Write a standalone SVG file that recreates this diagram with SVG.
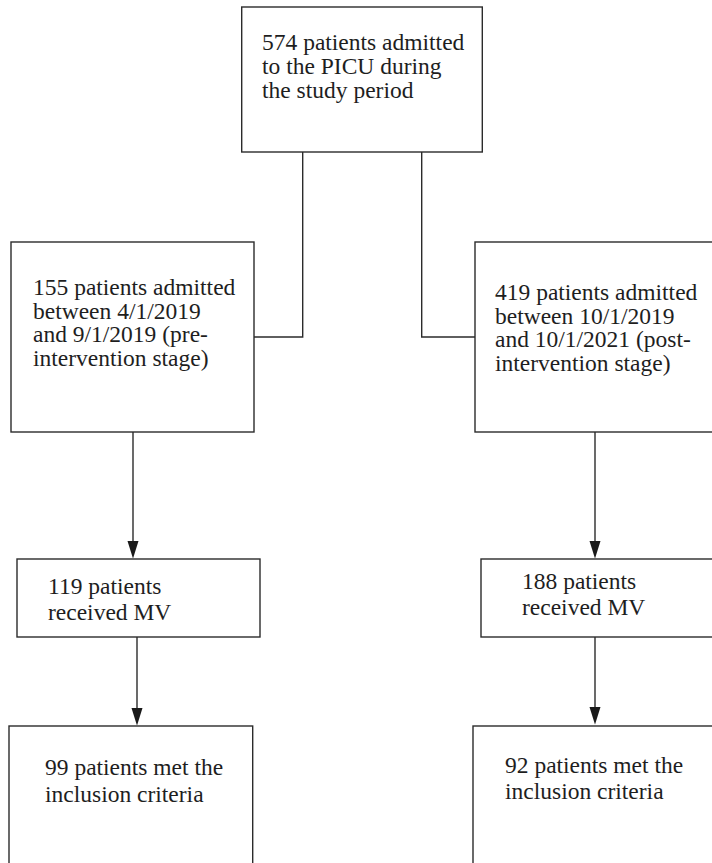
<svg xmlns="http://www.w3.org/2000/svg" width="712" height="863" viewBox="0 0 712 863">
<style>
.box{fill:#fff;stroke:#2b2b2b;stroke-width:1.4}
.lbl{font-family:"Liberation Serif","Times New Roman",serif;font-size:23.5px;fill:#1e1e1e}
.con{fill:none;stroke:#2b2b2b;stroke-width:1.4}
.head{fill:#1a1a1a}
</style>
<rect width="712" height="863" fill="#fff"/>
<g id="connectors">
<path class="con" d="M302.7,152 V337 H254"/>
<path class="con" d="M421.7,152 V337 H475"/>
<line class="con" x1="133" y1="432" x2="133" y2="545"/>
<path class="head" d="M127.5,541 L138.5,541 L133,558.5 Z"/>
<line class="con" x1="137" y1="637" x2="137" y2="712"/>
<path class="head" d="M131.5,708 L142.5,708 L137,725.5 Z"/>
<line class="con" x1="595" y1="432" x2="595" y2="545"/>
<path class="head" d="M589.5,541 L600.5,541 L595,558.5 Z"/>
<line class="con" x1="595" y1="637" x2="595" y2="711"/>
<path class="head" d="M589.5,707 L600.5,707 L595,724.5 Z"/>
</g>
<g id="n-total">
<rect class="box" x="241.7" y="7" width="240.6" height="145"/>
<text class="lbl" x="262" y="50">574 patients admitted</text>
<text class="lbl" x="262" y="74">to the PICU during</text>
<text class="lbl" x="262" y="98">the study period</text>
</g>
<g id="n-pre">
<rect class="box" x="11" y="242" width="243" height="190"/>
<text class="lbl" x="33" y="295">155 patients admitted</text>
<text class="lbl" x="33" y="318.5">between 4/1/2019</text>
<text class="lbl" x="33" y="342">and 9/1/2019 (pre-</text>
<text class="lbl" x="33" y="365.5">intervention stage)</text>
</g>
<g id="n-post">
<rect class="box" x="475" y="242" width="240" height="190"/>
<text class="lbl" x="495" y="300">419 patients admitted</text>
<text class="lbl" x="495" y="323.5">between 10/1/2019</text>
<text class="lbl" x="495" y="347">and 10/1/2021 (post-</text>
<text class="lbl" x="495" y="370.5">intervention stage)</text>
</g>
<g id="n-pre-mv">
<rect class="box" x="17" y="559" width="243" height="78"/>
<text class="lbl" x="48" y="594">119 patients</text>
<text class="lbl" x="48" y="620">received MV</text>
</g>
<g id="n-post-mv">
<rect class="box" x="481" y="559" width="234" height="78"/>
<text class="lbl" x="522" y="589">188 patients</text>
<text class="lbl" x="522" y="615">received MV</text>
</g>
<g id="n-pre-inc">
<rect class="box" x="9" y="726" width="243.7" height="150"/>
<text class="lbl" x="45" y="775">99 patients met the</text>
<text class="lbl" x="45" y="802">inclusion criteria</text>
</g>
<g id="n-post-inc">
<rect class="box" x="473" y="726" width="244" height="150"/>
<text class="lbl" x="505" y="773">92 patients met the</text>
<text class="lbl" x="505" y="799">inclusion criteria</text>
</g>
</svg>
